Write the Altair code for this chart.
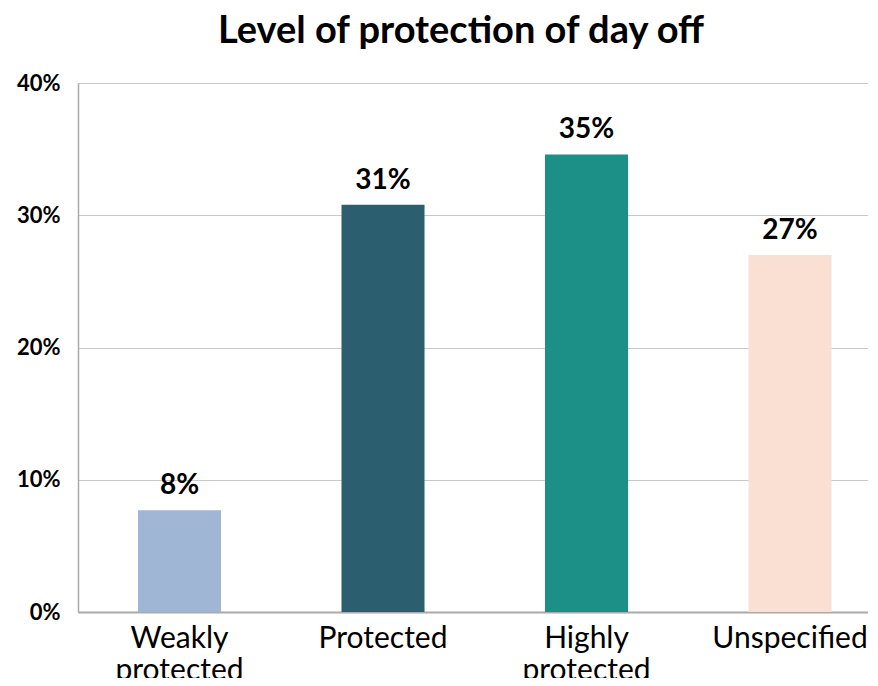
import altair as alt
import pandas as pd

categories = ["Weakly protected", "Protected", "Highly protected", "Unspecified"]
values = [0.077, 0.308, 0.346, 0.270]
labels = ["8%", "31%", "35%", "27%"]
colors = ["#9fb7d5", "#2b5f70", "#1c8f87", "#fae0d2"]

df = pd.DataFrame({"cat": categories, "val": values, "lab": labels})

FONT = "Lato"

x = alt.X(
    "cat:N",
    sort=categories,
    title=None,
    scale=alt.Scale(paddingInner=0.592, paddingOuter=0.237, align=0.622, round=False),
    axis=alt.Axis(
        labelAngle=0,
        labelExpr="split(datum.label, ' ')",
        labelFont=FONT,
        labelFontSize=30,
        labelColor="#000000",
        labelPadding=11,
        labelLineHeight=32,
        labelBaseline="top",
        labelOverlap=False,
        labelBound=False,
        ticks=False,
        domainColor="#aaaaaa",
        domainWidth=2,
        grid=False,
    ),
)

y = alt.Y(
    "val:Q",
    title=None,
    scale=alt.Scale(domain=[0, 0.4], nice=False),
    axis=alt.Axis(
        values=[0, 0.1, 0.2, 0.3, 0.4],
        format=".0%",
        labelFont=FONT,
        labelFontSize=22,
        labelFontWeight="bold",
        labelColor="#000000",
        labelPadding=18,
        ticks=False,
        domainColor="#aaaaaa",
        domainWidth=1.5,
        gridColor="#c8c8c8",
        gridWidth=1.2,
    ),
)

bars = alt.Chart(df).mark_bar().encode(
    x=x,
    y=y,
    color=alt.Color("cat:N", scale=alt.Scale(domain=categories, range=colors), legend=None),
)

text = alt.Chart(df).mark_text(
    font=FONT, fontSize=28, fontWeight="bold", baseline="bottom", dy=-10, color="#000000"
).encode(x=alt.X("cat:N", sort=categories), y="val:Q", text="lab:N")

chart = (
    (bars + text)
    .properties(
        width=790,
        height=529,
        autosize=alt.AutoSizeParams(type="none"),
        padding={"left": 70, "top": 75, "right": 0, "bottom": 66},
        title=alt.TitleParams(
            "Level of protection of day off",
            font=FONT,
            fontSize=38,
            fontWeight="bold",
            color="#000000",
            anchor="middle",
            dx=-12,
            offset=21,
        ),
    )
    .configure_view(stroke=None)
    .configure(background="white")
)

chart.save("out.html", embed_options={"renderer": "svg", "actions": False})
